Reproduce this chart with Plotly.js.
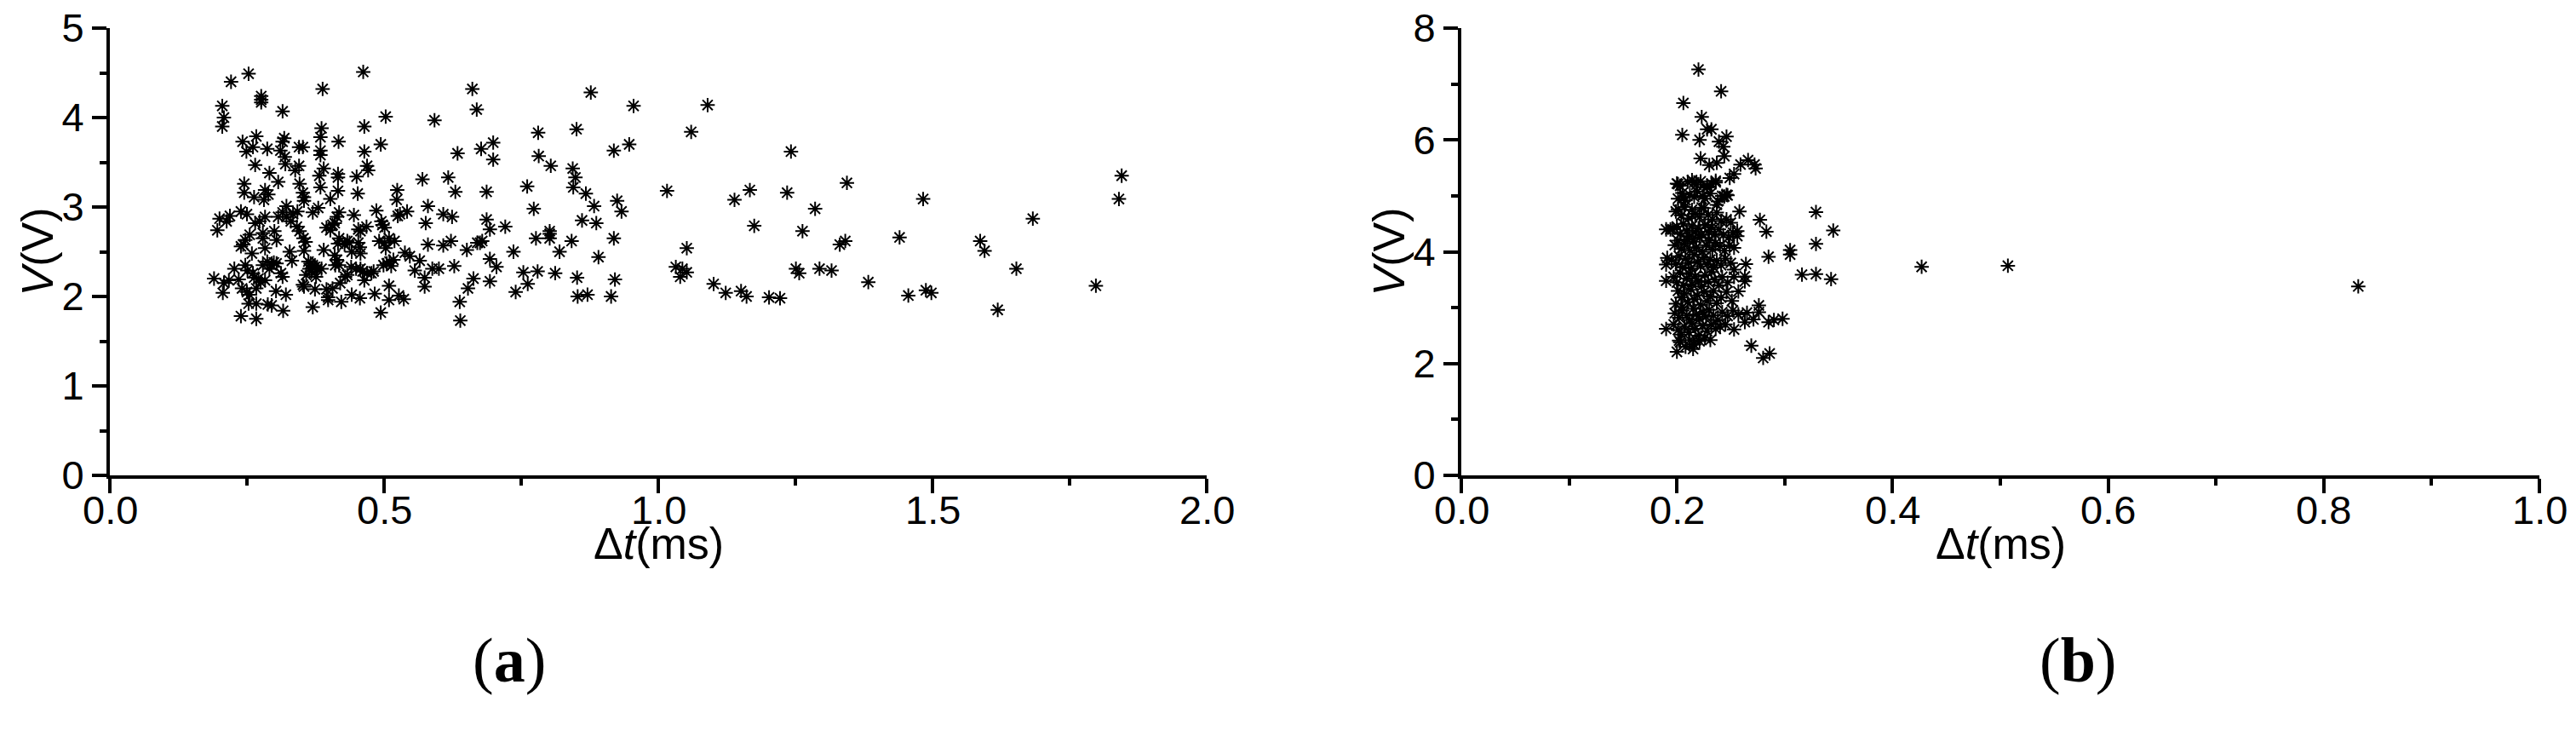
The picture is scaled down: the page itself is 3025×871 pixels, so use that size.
<!DOCTYPE html>
<html>
<head>
<meta charset="utf-8">
<script src="https://cdn.plot.ly/plotly-3.0.1.min.js"></script>
<style>html,body{margin:0;padding:0;background:#fff;}#chart{width:3025px;height:871px;}</style>
</head>
<body>
<div id="chart"></div>
<script>
// Panel (a): interval Δt (ms) and voltage V (V)
const leftDt = [0.253,0.221,0.205,0.208,0.205,0.276,0.276,0.276,0.315,0.388,0.462,0.503,0.592,0.661,0.669,0.877,0.955,0.464,0.386,0.384,
0.417,0.494,0.464,0.469,0.471,0.450,0.452,0.416,0.416,0.416,0.390,0.382,0.384,0.384,0.352,0.345,0.345,0.338,0.346,0.352,
0.354,0.354,0.380,0.402,0.384,0.370,0.318,0.315,0.311,0.319,0.320,0.307,0.291,0.287,0.267,0.261,0.249,0.242,0.265,0.245,
0.245,0.263,0.283,0.281,0.289,0.322,0.315,0.307,0.322,0.334,0.342,0.330,0.341,0.346,0.353,0.357,0.354,0.328,0.332,0.239,
0.250,0.219,0.200,0.213,0.196,0.265,0.273,0.283,0.279,0.279,0.255,0.247,0.243,0.239,0.283,0.259,0.300,0.304,0.227,0.190,
0.208,0.206,0.217,0.235,0.241,0.250,0.255,0.247,0.251,0.261,0.263,0.271,0.275,0.283,0.267,0.253,0.267,0.288,0.295,0.239,
0.267,0.279,0.287,0.299,0.295,0.304,0.291,0.312,0.315,0.303,0.321,0.316,0.352,0.354,0.358,0.364,0.366,0.370,0.374,0.362,
0.378,0.368,0.386,0.374,0.370,0.376,0.390,0.395,0.398,0.398,0.406,0.410,0.414,0.411,0.418,0.420,0.422,0.429,0.433,0.433,
0.418,0.416,0.428,0.437,0.441,0.453,0.456,0.457,0.440,0.449,0.457,0.464,0.441,0.456,0.453,0.468,0.445,0.457,0.402,0.395,
0.406,0.410,0.414,0.418,0.461,0.469,0.477,0.481,0.486,0.495,0.497,0.501,0.491,0.501,0.503,0.509,0.519,0.499,0.505,0.510,
0.513,0.517,0.483,0.494,0.509,0.509,0.527,0.536,0.524,0.523,0.525,0.529,0.542,0.538,0.547,0.556,0.565,0.570,0.580,0.576,
0.580,0.574,0.574,0.588,0.600,0.608,0.617,0.624,0.622,0.608,0.630,0.634,0.628,0.638,0.639,0.651,0.653,0.663,0.670,0.675,
0.679,0.677,0.687,0.687,0.693,0.693,0.705,0.693,0.699,0.699,0.721,0.736,0.740,0.754,0.762,0.761,0.773,0.777,0.780,0.781,
0.782,0.802,0.802,0.802,0.804,0.812,0.820,0.842,0.844,0.845,0.851,0.849,0.852,0.853,0.861,0.868,0.871,0.883,0.887,0.891,
0.914,0.919,0.919,0.921,0.925,0.933,0.947,1.016,1.032,1.040,
1.090,1.060,1.242,1.139,1.167,1.235,1.344,1.286,1.175,1.263,1.483,1.845,1.840,1.683,1.440,1.331,1.341,1.587,1.595,1.052,
1.044,1.052,1.101,1.123,1.151,1.161,1.202,1.222,1.251,1.257,1.294,1.316,1.383,1.456,1.488,1.498,1.653,1.619,1.798];
const leftV = [4.49,4.40,4.13,4.00,3.90,4.24,4.20,4.17,4.07,4.32,4.51,4.01,3.97,4.32,4.09,4.28,4.13,3.90,3.88,3.78,
3.73,3.70,3.62,3.46,3.41,3.34,3.15,3.37,3.33,3.18,3.43,3.35,3.63,3.58,3.67,3.67,3.46,3.41,3.26,3.16,
3.11,3.07,2.99,3.09,3.22,2.94,3.77,3.73,3.63,3.56,3.48,3.28,3.38,3.65,3.79,3.67,3.62,3.73,3.47,3.26,
3.16,3.11,3.19,3.08,3.14,3.01,2.94,2.89,2.89,2.92,2.95,2.84,2.78,2.73,2.65,2.61,2.51,2.50,2.40,2.95,
2.92,2.90,2.87,2.84,2.74,2.82,2.84,2.89,2.71,2.65,2.69,2.63,2.58,2.56,2.54,2.48,2.73,2.63,2.31,2.20,
2.15,2.04,2.18,2.19,2.09,2.05,2.02,2.35,2.29,2.26,2.21,2.20,2.16,2.18,2.09,1.92,1.92,1.91,1.90,1.78,
1.75,2.35,2.39,2.38,2.35,2.37,2.31,2.26,2.22,2.06,2.02,1.84,2.13,2.11,2.24,2.31,2.37,2.35,2.33,2.39,
2.31,2.28,2.31,2.08,1.88,2.22,2.52,2.08,1.99,1.96,2.09,2.46,2.41,2.35,2.35,2.15,1.94,2.22,2.24,2.62,
2.65,2.59,2.58,2.60,2.50,2.60,2.55,2.48,2.33,2.31,2.31,2.18,2.02,1.98,2.75,2.78,2.91,2.73,2.74,2.77,
2.80,2.82,2.89,2.94,2.28,2.26,2.26,2.28,2.96,2.84,2.80,2.77,2.62,2.60,2.54,2.65,2.62,2.35,2.37,2.39,
2.34,2.41,2.03,1.82,2.12,1.96,2.01,1.97,3.19,3.08,2.90,2.92,2.95,2.49,2.45,2.29,2.40,3.31,3.01,2.82,
2.58,2.21,2.11,2.31,2.31,2.92,3.33,2.89,2.62,2.57,3.17,3.60,2.34,1.94,1.73,2.52,2.09,2.20,2.60,2.60,
2.62,3.65,3.17,2.86,2.75,2.42,2.33,2.17,3.72,3.53,2.78,2.50,2.05,2.27,2.14,3.23,2.98,2.65,2.28,3.83,
3.57,2.73,2.70,2.65,3.46,2.26,2.50,2.62,3.43,3.22,3.87,3.33,2.21,2.00,2.85,3.15,2.02,3.01,2.82,2.44,
2.00,3.63,2.65,2.19,3.07,2.95,3.70,3.18,2.33,2.22,
4.14,3.84,3.62,3.08,3.19,3.16,3.27,2.98,2.79,2.73,3.09,3.35,3.09,2.87,2.66,2.58,2.62,2.62,2.51,2.54,
2.31,2.27,2.14,2.04,2.06,2.00,1.99,1.98,2.31,2.26,2.31,2.29,2.16,2.01,2.07,2.04,2.31,1.85,2.12];

// Panel (b)
const rightDt = [0.220,0.241,0.206,0.223,0.228,0.232,0.205,0.221,0.239,0.246,0.243,0.244,0.222,0.230,0.237,0.259,0.266,0.272,0.273,0.253,
0.249,0.236,0.228,0.216,0.201,0.206,0.224,0.242,0.246,0.223,0.237,0.201,0.258,0.329,0.277,0.283,0.345,0.329,0.305,0.305,
0.285,0.264,0.316,0.329,0.343,0.263,0.263,0.256,0.256,0.190,0.194,0.191,0.190,0.190,0.253,0.253,0.257,0.253,0.265,0.269,
0.276,0.276,0.285,0.290,0.298,0.271,0.263,0.280,0.286,0.200,0.215,0.190,0.199,0.205,0.231,0.226,0.215,0.202,0.427,0.507,0.832,
0.200,0.203,0.210,0.214,0.218,0.222,0.228,0.232,0.236,
0.201,0.205,0.208,0.212,0.216,0.219,0.226,0.231,0.238,0.244,0.247,
0.199,0.204,0.207,0.211,0.214,0.217,0.221,0.225,0.229,0.233,0.237,0.241,0.246,0.250,
0.196,0.200,0.203,0.206,0.209,0.212,0.214,0.217,0.220,0.223,0.226,0.229,0.232,0.235,0.239,0.243,0.248,0.252,
0.198,0.201,0.204,0.207,0.210,0.212,0.215,0.218,0.221,0.224,0.227,0.230,0.233,0.236,0.240,0.244,0.249,
0.195,0.199,0.202,0.205,0.208,0.211,0.213,0.216,0.219,0.222,0.225,0.228,0.231,0.234,0.237,0.241,0.245,0.250,
0.197,0.200,0.203,0.206,0.209,0.212,0.214,0.217,0.220,0.223,0.226,0.229,0.232,0.235,0.239,0.242,0.247,0.253,
0.201,0.204,0.207,0.210,0.213,0.216,0.219,0.222,0.225,0.228,0.231,0.234,0.237,0.241,0.246,0.251,
0.198,0.202,0.205,0.209,0.212,0.215,0.218,0.221,0.224,0.227,0.230,0.234,0.238,0.242,0.247,0.252,0.257,
0.197,0.201,0.204,0.207,0.211,0.214,0.217,0.220,0.224,0.228,0.232,0.236,0.240,0.245,
0.203,0.208,0.212,0.216,0.221];
const rightV = [7.26,6.87,6.66,6.41,6.19,6.19,6.09,6.00,5.97,6.06,5.88,5.71,5.67,5.55,5.59,5.56,5.64,5.56,5.49,5.39,
5.32,5.24,5.18,5.24,5.21,4.97,5.00,5.00,5.02,4.79,4.84,4.76,4.72,4.71,4.57,4.36,4.38,4.14,4.03,3.95,
3.91,3.78,3.59,3.60,3.51,3.56,3.47,4.37,4.28,4.40,4.40,3.89,3.77,3.48,4.07,3.68,3.29,2.61,2.91,2.32,
3.04,2.92,2.74,2.78,2.80,2.79,2.74,2.10,2.18,2.21,2.26,2.62,3.07,3.01,2.42,2.46,2.35,2.41,3.73,3.75,3.38,
5.22,5.18,5.25,5.28,5.20,5.26,5.15,5.22,5.27,
4.95,5.05,4.92,5.02,4.98,5.08,4.95,5.04,4.90,4.99,5.01,
4.72,4.65,4.80,4.60,4.75,4.68,4.62,4.78,4.66,4.58,4.70,4.55,4.58,4.52,
4.40,4.45,4.32,4.50,4.38,4.28,4.46,4.35,4.42,4.30,4.48,4.36,4.44,4.32,4.40,4.30,4.26,4.34,
4.12,4.20,4.05,4.15,4.22,4.02,4.18,4.08,4.25,4.00,4.12,4.20,4.04,4.16,4.10,4.02,4.12,
3.85,3.78,3.92,3.72,3.88,3.80,3.70,3.95,3.82,3.74,3.90,3.78,3.86,3.72,3.84,3.76,3.88,3.80,
3.55,3.45,3.62,3.40,3.52,3.60,3.42,3.56,3.48,3.38,3.58,3.46,3.64,3.50,3.40,3.55,3.45,3.55,
3.30,3.18,3.25,3.10,3.32,3.15,3.22,3.05,3.28,3.12,3.20,3.30,3.08,3.18,3.28,3.12,
2.90,2.82,2.95,2.86,2.78,2.98,2.88,2.80,2.92,2.84,2.96,2.86,2.78,2.92,2.85,2.95,2.88,
2.70,2.60,2.52,2.66,2.56,2.72,2.62,2.50,2.68,2.58,2.70,2.62,2.66,2.70,
2.38,2.30,2.42,2.34,2.40];

// Tick values of the x axes
const leftXTicks = [0, 0.5, 1.0, 1.5, 2.0];
const rightXTicks = [0, 0.2, 0.4, 0.6, 0.8, 1.0];

const xTitle = 'Δ<i>t</i>(ms)';
const yTitle = '<i>V</i>(V)';
const panelLabels = ['(<b>a</b>)', '(<b>b</b>)'];

const W = 3025, H = 871;
const AX = {l1: 129, r1: 1417, l2: 1716, r2: 2982, top: 33, bot: 558};
const fontFam = '"Liberation Sans", Arial, sans-serif';
const tickFont = {family: fontFam, size: 47, color: '#000'};
const titleFont = {family: fontFam, size: 52, color: '#000'};
const serifFont = {family: '"Liberation Serif", "Times New Roman", serif', size: 74, color: '#000'};

const marker = {symbol: 'asterisk-open', size: 14, color: '#000', line: {color: '#000', width: 2}};

function axisBase(extra) {
  return Object.assign({
    showline: true, linecolor: '#000', linewidth: 4,
    ticks: 'outside', ticklen: 17, tickwidth: 4, tickcolor: '#000',
    showgrid: false, zeroline: false, mirror: false,
    tickfont: tickFont,
    automargin: false
  }, extra);
}

const ydom = [(H - AX.bot) / H, (H - AX.top) / H];
const px = v => v / W, py = v => (H - v) / H;

const data = [
  {x: leftDt, y: leftV, type: 'scatter', mode: 'markers', marker: marker, xaxis: 'x', yaxis: 'y', hoverinfo: 'x+y'},
  {x: rightDt, y: rightV, type: 'scatter', mode: 'markers', marker: marker, xaxis: 'x2', yaxis: 'y2', hoverinfo: 'x+y'}
];

function ann(text, x, y, font, angle) {
  return {text: text, xref: 'paper', yref: 'paper', x: px(x), y: py(y), xanchor: 'center', yanchor: 'middle',
    showarrow: false, font: font, textangle: angle || 0};
}
function tickAnn(v, xref) {
  return {text: v.toFixed(1), xref: xref, yref: 'paper', x: v, y: py(598), xanchor: 'center', yanchor: 'middle',
    showarrow: false, font: tickFont, borderpad: 0};
}

const layout = {
  width: W, height: H,
  margin: {l: 0, r: 0, t: 0, b: 0},
  paper_bgcolor: '#fff', plot_bgcolor: '#fff',
  showlegend: false,
  xaxis: axisBase({domain: [px(AX.l1), px(AX.r1)], range: [0, 2], tickmode: 'array', tickvals: leftXTicks,
    showticklabels: false, anchor: 'y',
    minor: {dtick: 0.25, ticklen: 8, tickwidth: 4, tickcolor: '#000', ticks: 'outside', showgrid: false}}),
  yaxis: axisBase({domain: ydom, range: [0, 5], dtick: 1, tick0: 0, anchor: 'x',
    minor: {dtick: 0.5, ticklen: 8, tickwidth: 4, tickcolor: '#000', ticks: 'outside', showgrid: false}}),
  xaxis2: axisBase({domain: [px(AX.l2), px(AX.r2)], range: [0, 1], tickmode: 'array', tickvals: rightXTicks,
    showticklabels: false, anchor: 'y2',
    minor: {dtick: 0.1, ticklen: 8, tickwidth: 4, tickcolor: '#000', ticks: 'outside', showgrid: false}}),
  yaxis2: axisBase({domain: ydom, range: [0, 8], dtick: 2, tick0: 0, anchor: 'x2',
    minor: {dtick: 1, ticklen: 8, tickwidth: 4, tickcolor: '#000', ticks: 'outside', showgrid: false}}),
  annotations: [
    ...leftXTicks.map(v => tickAnn(v, 'x')),
    ...rightXTicks.map(v => tickAnn(v, 'x2')),
    ann(xTitle, (AX.l1 + AX.r1) / 2, 638, titleFont),
    ann(xTitle, (AX.l2 + AX.r2) / 2, 638, titleFont),
    ann(yTitle, AX.l1 - 86, (AX.top + AX.bot) / 2, titleFont, -90),
    ann(yTitle, AX.l2 - 86, (AX.top + AX.bot) / 2, titleFont, -90),
    ann(panelLabels[0], 598, 775, serifFont),
    ann(panelLabels[1], 2440, 775, serifFont)
  ]
};

Plotly.newPlot('chart', data, layout, {staticPlot: true, displayModeBar: false});
</script>
</body>
</html>
